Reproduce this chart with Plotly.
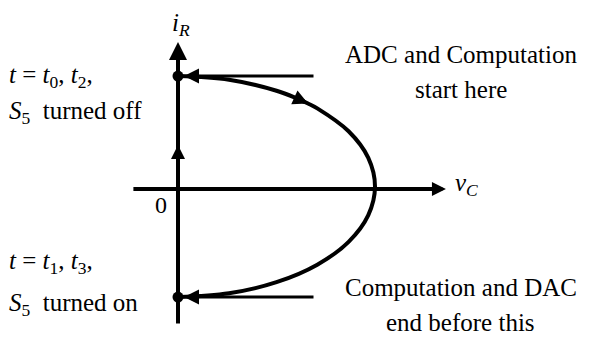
import plotly.graph_objects as go

# State-plane trajectory (normalised units: v_C / V_max, i_R / I_max)
curve_v = [0.0, 0.259, 0.50, 0.60, 0.66, 0.707, 0.866, 0.966, 1.0,
           0.966, 0.866, 0.707, 0.50, 0.259, 0.0]
curve_i = [1.027, 0.993, 0.893, 0.826, 0.777, 0.733, 0.525, 0.283, 0.023,
           -0.237, -0.480, -0.688, -0.847, -0.948, -0.982]

# Switching instants marked on the i_R axis
event_v = [0.0, 0.0]
event_i = [1.027, -0.982]

# Axis extents
v_axis = [-0.234, 1.36]
i_axis = [-1.236, 1.336]
i_dir_mark = [0.2, 0.4]

W, H = 603, 339
x_range = [-178 / 197, (W - 178) / 197]
y_range = [(189 - H) / 110, 189 / 110]

SERIF = "Liberation Serif"
BLACK = "#000000"

fig = go.Figure()

fig.add_trace(go.Scatter(
    x=curve_v, y=curve_i, mode="lines",
    line=dict(color=BLACK, width=4, shape="spline", smoothing=1.0),
    hoverinfo="skip", showlegend=False))

fig.add_trace(go.Scatter(
    x=event_v, y=event_i, mode="markers",
    marker=dict(color=BLACK, size=11),
    hoverinfo="skip", showlegend=False))

ann = []

# i_R axis with arrow
ann.append(dict(x=0, y=i_axis[1], ax=0, ay=i_axis[0], xref="x", yref="y",
                axref="x", ayref="y", text="", showarrow=True,
                arrowhead=2, arrowwidth=4, arrowsize=0.9, arrowcolor=BLACK))
# v_C axis with arrow
ann.append(dict(x=v_axis[1], y=0, ax=v_axis[0], ay=0, xref="x", yref="y",
                axref="x", ayref="y", text="", showarrow=True,
                arrowhead=2, arrowwidth=4, arrowsize=0.7, arrowcolor=BLACK))
# direction mark on the i_R axis
ann.append(dict(x=0, y=i_dir_mark[1], ax=0, ay=i_dir_mark[0], xref="x", yref="y",
                axref="x", ayref="y", text="", showarrow=True,
                arrowhead=2, arrowwidth=4, arrowsize=0.7, arrowcolor=BLACK))
# direction mark on the trajectory
ann.append(dict(x=curve_v[4], y=curve_i[4], ax=curve_v[3], ay=curve_i[3],
                xref="x", yref="y", axref="x", ayref="y", text="",
                showarrow=True, arrowhead=2, arrowwidth=4, arrowsize=0.75,
                arrowcolor=BLACK))
# callout arrows pointing at the switching instants
for yi in event_i:
    ann.append(dict(x=event_v[0], y=yi, ax=137, ay=0, xref="x", yref="y",
                    text="", showarrow=True, arrowhead=2, arrowwidth=3,
                    arrowsize=1.0, standoff=6, arrowcolor=BLACK))


def label(text, px, py, size=25, anchor="center"):
    ann.append(dict(x=px / W, y=1 - py / H, xref="paper", yref="paper",
                    text=text, showarrow=False, xanchor=anchor,
                    yanchor="middle",
                    font=dict(family=SERIF, size=size, color=BLACK)))


label("<i>i</i><sub><i>R</i></sub>", 181, 24)
label("<i>v</i><sub><i>C</i></sub>", 466, 184)
label("0", 161, 205, size=24)

label("<i>t</i> = <i>t</i><sub>0</sub>, <i>t</i><sub>2</sub>,", 7, 76, anchor="left")
label("<i>S</i><sub>5</sub>  turned off", 7, 112, anchor="left")
label("<i>t</i> = <i>t</i><sub>1</sub>, <i>t</i><sub>3</sub>,", 7, 262, anchor="left")
label("<i>S</i><sub>5</sub>  turned on", 7, 304, anchor="left")

label("ADC and Computation", 461, 55)
label("start here", 461, 90)
label("Computation and DAC", 461, 287)
label("end before this", 460, 322)

fig.update_layout(
    width=W, height=H,
    margin=dict(l=0, r=0, t=0, b=0),
    paper_bgcolor="white", plot_bgcolor="white",
    xaxis=dict(range=x_range, visible=False),
    yaxis=dict(range=y_range, visible=False),
    annotations=ann,
    showlegend=False,
)

fig.write_html("out.html")
